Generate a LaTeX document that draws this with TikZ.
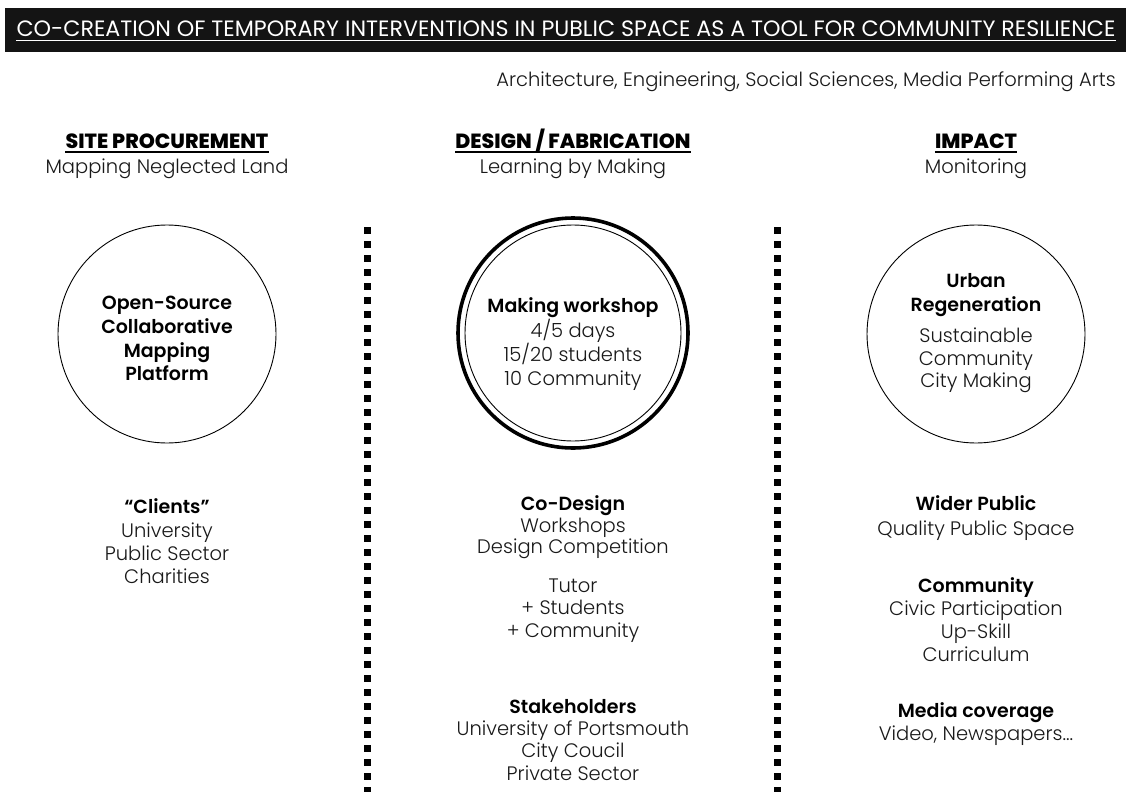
\documentclass[tikz,border=0pt]{standalone}
\usepackage{fontspec}
\setmainfont{Poppins Light}[BoldFont=Poppins SemiBold]
\newfontfamily\headfont{Poppins ExtraBold}
\newfontfamily\titlefont{Poppins}
\begin{document}
\begin{tikzpicture}[x=1pt,y=-1pt,
  every node/.style={inner sep=0pt, anchor=base},
  reg/.style={font=\fontsize{19.5}{22}\selectfont, text=black!90},
  bd/.style={font=\fontsize{19}{22}\selectfont\bfseries, text=black},
  head/.style={font=\fontsize{20.5}{24}\headfont, text=black},
  ring/.style={circle, draw=black, line width=0.9pt, inner sep=0pt},
  sep/.style={line width=7pt, dash pattern=on 7pt off 7pt, draw=black},
  uline/.style={line width=1.4pt}]
\useasboundingbox (0,0) rectangle (1126,792);
\fill[white] (0,0) rectangle (1126,792);

% title bar
\fill[black!92] (5,8) rectangle (1126,52);
\node[font=\fontsize{22.2}{24}\titlefont, text=white] (title) at (566,37)
  {CO-CREATION OF TEMPORARY INTERVENTIONS IN PUBLIC SPACE AS A TOOL FOR COMMUNITY RESILIENCE};
\draw[white, line width=1pt] ([yshift=-3.5pt]title.base west) -- ([yshift=-3.5pt]title.base east);
\node[reg, anchor=base east] (disc) at (1116,86)
  {Architecture, Engineering, Social Sciences, Media Performing Arts};

% column headings
\node[head] (h1) at (167,148) {SITE PROCUREMENT};
\node[head] (h2) at (573,148) {DESIGN / FABRICATION};
\node[head] (h3) at (976,148) {IMPACT};
\foreach \h in {h1,h2,h3}
  \draw[uline] ([yshift=-4pt]\h.base west) -- ([yshift=-4pt]\h.base east);
\node[reg] (s1) at (167,173) {Mapping Neglected Land};
\node[reg] (s2) at (573,173) {Learning by Making};
\node[reg] (s3) at (976,173) {Monitoring};

% column separators
\coordinate (d1top) at (367,227); \coordinate (d1bot) at (367,792);
\coordinate (d2top) at (777,227); \coordinate (d2bot) at (777,792);
\draw[sep] (d1top) -- (d1bot);
\draw[sep] (d2top) -- (d2bot);

% circles
\node[ring, minimum size=218pt, anchor=center] (c1) at (167,334) {};
\node[ring, minimum size=230pt, line width=3.6pt, anchor=center] (c2o) at (573,333) {};
\node[ring, minimum size=216pt, anchor=center] (c2i) at (573,333) {};
\node[ring, minimum size=218pt, anchor=center] (c3) at (976,334) {};

% text inside the circles
\foreach \t/\y [count=\i] in {Open-Source/309, Collaborative/333, Mapping/357, Platform/380}
  \node[bd] (ca\i) at (167,\y) {\t};
\node[bd] (cb1) at (573,312) {Making workshop};
\node[reg] (cb2) at (573,337) {4/5 days};
\node[reg] (cb3) at (573,361) {15/20 students};
\node[reg] (cb4) at (573,385) {10 Community};
\node[bd] (cc1) at (976,287) {Urban};
\node[bd] (cc2) at (976,311) {Regeneration};
\foreach \t/\y [count=\i from 3] in {Sustainable/342, Community/365, City Making/387}
  \node[reg] (cc\i) at (976,\y) {\t};

% left column
\node[bd] (la1) at (167,513) {“Clients”};
\foreach \t/\y [count=\i from 2] in {University/537, Public Sector/560, Charities/583}
  \node[reg] (la\i) at (167,\y) {\t};

% middle column
\node[bd] (ma1) at (573,510) {Co-Design};
\foreach \t/\y [count=\i from 2] in {Workshops/532, Design Competition/553}
  \node[reg] (ma\i) at (573,\y) {\t};
\foreach \t/\y [count=\i] in {Tutor/592, + Students/614, + Community/637}
  \node[reg] (mb\i) at (573,\y) {\t};
\node[bd] (mc1) at (573,713) {Stakeholders};
\foreach \t/\y [count=\i from 2] in {University of Portsmouth/735, City Coucil/757, Private Sector/780}
  \node[reg] (mc\i) at (573,\y) {\t};

% right column
\node[bd] (ra1) at (976,510) {Wider Public};
\node[reg] (ra2) at (976,535) {Quality Public Space};
\node[bd] (rb1) at (976,592) {Community};
\foreach \t/\y [count=\i from 2] in {Civic Participation/615, Up-Skill/638, Curriculum/661}
  \node[reg] (rb\i) at (976,\y) {\t};
\node[bd] (rc1) at (976,717) {Media coverage};
\node[reg] (rc2) at (976,740) {Video, Newspapers...};
\end{tikzpicture}
\end{document}
